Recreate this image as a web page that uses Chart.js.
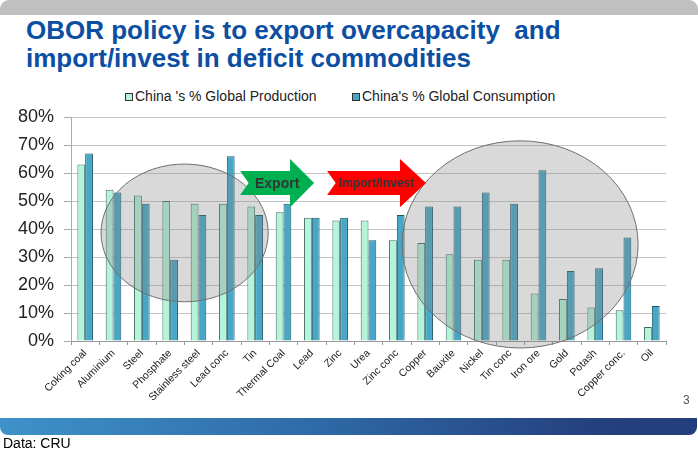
<!DOCTYPE html>
<html>
<head>
<meta charset="utf-8">
<script src="https://cdn.jsdelivr.net/npm/chart.js@4.4.1/dist/chart.umd.min.js"></script>
<style>
  body { margin: 0; background: #fff; font-family: Arial, "Liberation Sans", sans-serif; }
  #page { position: relative; width: 698px; height: 449px; overflow: hidden; }
  #topbar { position: absolute; left: 0; top: 0; width: 698px; height: 15px; background: #c0c0c0; border-radius: 9px 9px 0 0; }
  #title { position: absolute; left: 26px; top: 16px; font-size: 26px; line-height: 28px; font-weight: bold; color: #0b4ea2; white-space: pre; }
  #legend { position: absolute; left: 0; top: 87px; height: 18px; font-size: 14px; color: #222; }
  .li { position: absolute; top: 0; white-space: pre; line-height: 18px; }
  .sw { position: absolute; top: 6px; width: 6px; height: 6px; border: 1px solid #333; }
  #chart { position: absolute; left: 0; top: 0; }
  #pagenum { position: absolute; left: 683px; top: 393px; font-size: 12px; color: #555; }
  #band { position: absolute; left: 0; top: 418px; width: 697px; height: 17px; border-radius: 0 0 8px 8px;
          background: linear-gradient(to right, #3e92c9, #2f6aa8 45%, #25407e 85%, #243e7b); }
  #source { position: absolute; left: 3px; top: 435px; font-size: 14px; color: #000; }
</style>
</head>
<body>
<div id="page">
  <div id="topbar"></div>
  <div id="title">OBOR policy is to export overcapacity  and
import/invest in deficit commodities</div>
  <div id="legend"></div>
  <canvas id="chart" width="698" height="449"></canvas>
  <div id="pagenum">3</div>
  <div id="band"></div>
  <div id="source">Data: CRU</div>
</div>
<script>
// chart data
const categories = ['Coking coal', 'Aluminium', 'Steel', 'Phosphate', 'Stainless steel', 'Lead conc', 'Tin',
  'Thermal Coal', 'Lead', 'Zinc', 'Urea', 'Zinc conc', 'Copper', 'Bauxite', 'Nickel', 'Tin conc',
  'Iron ore', 'Gold', 'Potash', 'Copper conc.', 'Oil'];
const seriesNames = ["China 's % Global Production", "China's % Global Consumption"];
const production  = [63, 54, 52, 50, 49, 49, 48, 46, 44, 43, 43, 36, 35, 31, 29, 29, 17, 15, 12, 11, 5];
const consumption = [67, 53, 49, 29, 45, 66, 45, 49, 44, 44, 36, 45, 48, 48, 53, 49, 61, 25, 26, 37, 12.5];
const yMax = 80;
const yStep = 10;

const fills   = ['#b4f5da', '#46a8c6'];
const borders = ['#3f6f63', '#1e5566'];

// legend (html)
const legend = document.getElementById('legend');
const legendX = [125, 352];
seriesNames.forEach((name, i) => {
  const sw = document.createElement('div');
  sw.className = 'sw';
  sw.style.left = legendX[i] + 'px';
  sw.style.background = fills[i];
  legend.appendChild(sw);
  const t = document.createElement('div');
  t.className = 'li';
  t.style.left = (legendX[i] + 10) + 'px';
  t.textContent = name;
  legend.appendChild(t);
});

// ellipses + arrows, placed in axis units (category index, percent)
const overlay = {
  id: 'overlay',
  afterDatasetsDraw(chart) {
    const xs = chart.scales.x, ys = chart.scales.y, c = chart.ctx;
    const px = v => xs.getPixelForValue(v);
    const py = v => ys.getPixelForValue(v);

    const rings = [[3.51, 38.6, 2.95, 24.6], [15.35, 34.5, 4.165, 37]];
    rings.forEach(r => {
      const cx = px(r[0]), cy = py(r[1]);
      const rx = px(r[0] + r[2]) - cx, ry = cy - py(r[1] + r[3]);
      c.save();
      c.beginPath();
      c.ellipse(cx, cy, rx, ry, 0, 0, Math.PI * 2);
      c.fillStyle = 'rgba(128,128,128,0.3)';
      c.fill();
      c.strokeStyle = '#6e6e6e';
      c.lineWidth = 1;
      c.stroke();
      c.restore();
    });

    // [tail, headStart, tip, yMid, bodyHalf, headHalf, notch, colour, text, font]
    const arrows = [
      [5.47, 7.23, 8.08, 56.4, 4.3, 8.6, 0.3, '#00b050', 'Export', 'bold 14px Arial, "Liberation Sans"'],
      [8.54, 11.11, 12.03, 56.4, 4.3, 8.6, 0.3, '#ff0000', 'Import/invest', 'bold 12px Arial, "Liberation Sans"']
    ];
    arrows.forEach(a => {
      const x0 = px(a[0]), x1 = px(a[1]), x2 = px(a[2]), xn = px(a[0] + a[6]);
      const ym = py(a[3]);
      const b = ym - py(a[3] + a[4]), h = ym - py(a[3] + a[5]);
      c.save();
      c.beginPath();
      c.moveTo(x0, ym - b);
      c.lineTo(x1, ym - b);
      c.lineTo(x1, ym - h);
      c.lineTo(x2, ym);
      c.lineTo(x1, ym + h);
      c.lineTo(x1, ym + b);
      c.lineTo(x0, ym + b);
      c.lineTo(xn, ym);
      c.closePath();
      c.fillStyle = a[7];
      c.fill();
      c.font = a[9];
      c.fillStyle = '#333';
      c.textAlign = 'center';
      c.textBaseline = 'middle';
      c.fillText(a[8], (x0 + x2) / 2, ym + 1);
      c.restore();
    });
  }
};

new Chart(document.getElementById('chart'), {
  type: 'bar',
  data: {
    labels: categories,
    datasets: [
      { label: seriesNames[0], data: production, backgroundColor: fills[0], borderColor: borders[0], borderWidth: 1 },
      { label: seriesNames[1], data: consumption, backgroundColor: fills[1], borderColor: borders[1], borderWidth: 1 }
    ]
  },
  options: {
    responsive: false,
    animation: false,
    layout: { padding: { top: 117, right: 32, bottom: 0, left: 0 } },
    datasets: { bar: { categoryPercentage: 0.55, barPercentage: 1 } },
    plugins: { legend: { display: false }, tooltip: { enabled: false } },
    scales: {
      x: {
        afterFit: s => { s.height = 108; },
        grid: { offset: true, drawOnChartArea: false, tickLength: 4, color: '#999' },
        border: { color: '#999' },
        ticks: {
          autoSkip: false, minRotation: 45, maxRotation: 45, padding: 2,
          color: '#222', font: { family: 'Arial, "Liberation Sans"', size: 10.5 }
        }
      },
      y: {
        min: 0, max: yMax,
        afterFit: s => { s.width = 71; },
        grid: { color: '#c4c4c4', tickLength: 7, tickColor: '#aaa' },
        border: { color: '#aaa' },
        ticks: {
          stepSize: yStep, padding: 10, color: '#222',
          font: { family: 'Arial, "Liberation Sans"', size: 18 },
          callback: v => v + '%'
        }
      }
    }
  },
  plugins: [overlay]
});
</script>
</body>
</html>
